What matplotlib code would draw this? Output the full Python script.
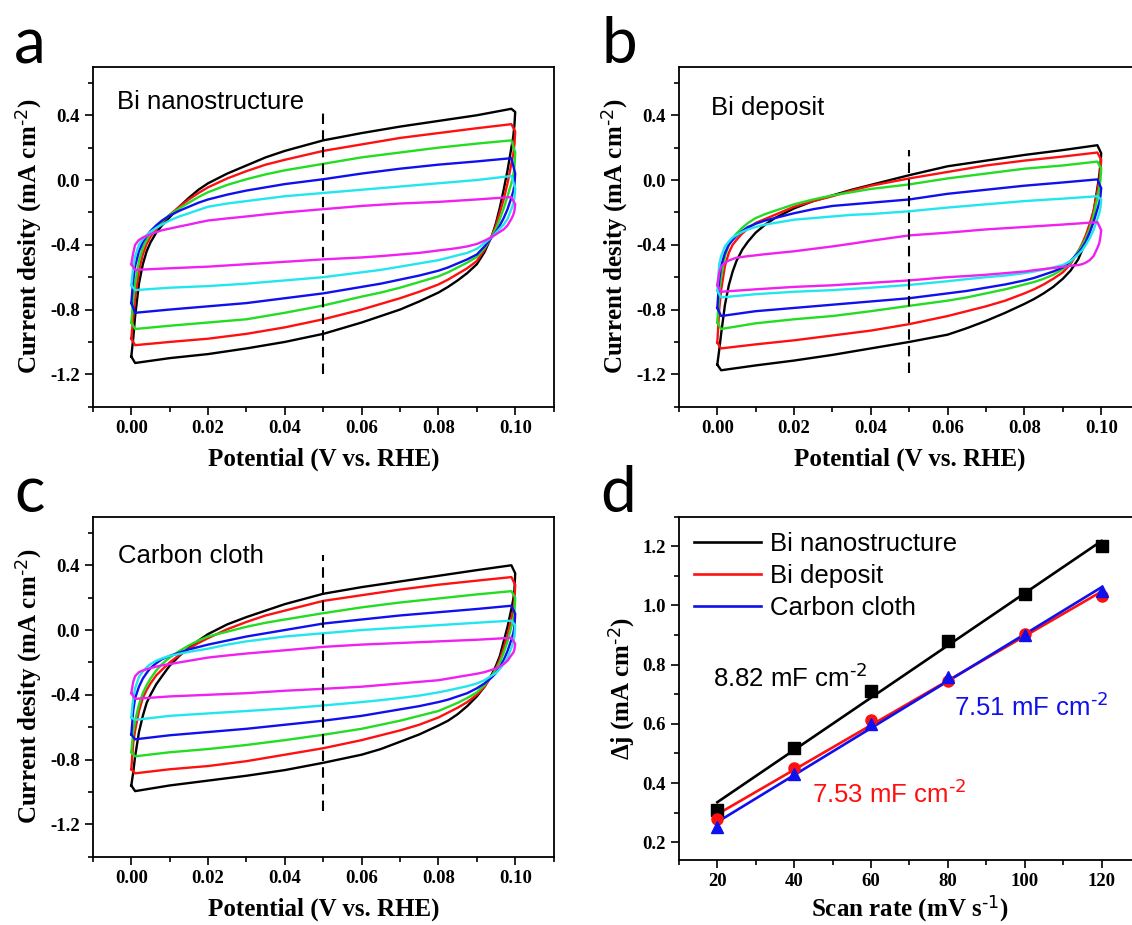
import numpy as np
import matplotlib
matplotlib.use('Agg')
import matplotlib.pyplot as plt
from matplotlib.ticker import MultipleLocator, FormatStrFormatter
from matplotlib.lines import Line2D

plt.rcParams['mathtext.default'] = 'regular'
plt.rcParams['axes.unicode_minus'] = False

# ---------------- data ----------------
# potential grid of the anodic (upper) branch and cathodic (lower) branch
XU = [0.000, 0.0005, 0.001, 0.002, 0.003, 0.004, 0.005, 0.0065, 0.008, 0.010,
      0.0125, 0.015, 0.0175, 0.020, 0.025, 0.030, 0.035, 0.040, 0.050, 0.060,
      0.070, 0.080, 0.090, 0.099]
XL = [0.100, 0.0998, 0.0995, 0.099, 0.098, 0.097, 0.096, 0.095, 0.094, 0.092,
      0.090, 0.0875, 0.085, 0.0825, 0.080, 0.075, 0.070, 0.065, 0.060, 0.050,
      0.040, 0.030, 0.020, 0.010, 0.001, 0.000]

SCAN_LABELS = ['120', '100', '80', '60', '40', '20']
CV_COLORS = ['#000000', '#ff1010', '#22dd22', '#1010ee', '#22e6ee', '#f020f0']

# panel a : Bi nanostructure
A120_UP = [-1.09, -0.98, -0.84, -0.64, -0.52, -0.44, -0.385, -0.325, -0.28, -0.23, -0.165, -0.11, -0.06, -0.02, 0.04, 0.09, 0.14, 0.18, 0.245, 0.29, 0.33, 0.365, 0.40, 0.44]
A120_DN = [0.42, 0.34, 0.27, 0.20, 0.06, -0.06, -0.17, -0.265, -0.34, -0.445, -0.52, -0.575, -0.62, -0.66, -0.695, -0.75, -0.80, -0.84, -0.88, -0.95, -1.00, -1.04, -1.075, -1.10, -1.13, -1.09]
A100_UP = [-0.98, -0.85, -0.73, -0.56, -0.46, -0.395, -0.35, -0.30, -0.26, -0.215, -0.165, -0.12, -0.08, -0.045, 0.01, 0.055, 0.095, 0.125, 0.18, 0.22, 0.26, 0.29, 0.32, 0.345]
A100_DN = [0.30, 0.22, 0.16, 0.10, -0.02, -0.12, -0.20, -0.28, -0.34, -0.43, -0.50, -0.545, -0.58, -0.615, -0.645, -0.69, -0.73, -0.765, -0.80, -0.86, -0.91, -0.95, -0.98, -1.00, -1.02, -0.98]
A80_UP = [-0.88, -0.74, -0.64, -0.50, -0.42, -0.37, -0.33, -0.29, -0.255, -0.215, -0.175, -0.14, -0.105, -0.075, -0.03, 0.005, 0.035, 0.06, 0.10, 0.14, 0.17, 0.20, 0.225, 0.245]
A80_DN = [0.17, 0.08, 0.03, -0.02, -0.10, -0.175, -0.24, -0.30, -0.345, -0.42, -0.475, -0.51, -0.54, -0.57, -0.595, -0.63, -0.665, -0.695, -0.72, -0.775, -0.82, -0.86, -0.88, -0.90, -0.92, -0.88]
A60_UP = [-0.76, -0.62, -0.53, -0.44, -0.385, -0.345, -0.315, -0.28, -0.25, -0.22, -0.19, -0.165, -0.14, -0.12, -0.09, -0.065, -0.045, -0.025, 0.005, 0.04, 0.07, 0.095, 0.115, 0.135]
A60_DN = [0.04, -0.03, -0.07, -0.11, -0.18, -0.235, -0.28, -0.32, -0.35, -0.41, -0.46, -0.49, -0.515, -0.54, -0.56, -0.59, -0.615, -0.64, -0.66, -0.70, -0.73, -0.76, -0.78, -0.80, -0.82, -0.76]
A40_UP = [-0.65, -0.54, -0.47, -0.40, -0.365, -0.34, -0.32, -0.295, -0.275, -0.25, -0.225, -0.205, -0.185, -0.165, -0.145, -0.13, -0.115, -0.10, -0.08, -0.06, -0.04, -0.02, 0.0, 0.025]
A40_DN = [-0.05, -0.11, -0.145, -0.18, -0.24, -0.275, -0.30, -0.325, -0.35, -0.39, -0.425, -0.45, -0.465, -0.48, -0.495, -0.515, -0.535, -0.555, -0.57, -0.60, -0.62, -0.64, -0.655, -0.665, -0.68, -0.65]
A20_UP = [-0.52, -0.45, -0.40, -0.37, -0.355, -0.345, -0.335, -0.322, -0.31, -0.30, -0.287, -0.275, -0.262, -0.25, -0.237, -0.225, -0.212, -0.20, -0.18, -0.16, -0.145, -0.135, -0.12, -0.105]
A20_DN = [-0.15, -0.19, -0.215, -0.24, -0.28, -0.305, -0.32, -0.335, -0.35, -0.375, -0.395, -0.41, -0.42, -0.428, -0.435, -0.45, -0.46, -0.47, -0.478, -0.49, -0.505, -0.52, -0.535, -0.545, -0.555, -0.52]

# panel b : Bi deposit
B120_UP = [-1.14, -1.05, -0.95, -0.77, -0.65, -0.565, -0.50, -0.43, -0.38, -0.325, -0.275, -0.235, -0.205, -0.175, -0.13, -0.095, -0.06, -0.03, 0.03, 0.085, 0.12, 0.155, 0.185, 0.215]
B120_DN = [0.165, 0.10, 0.03, -0.05, -0.20, -0.29, -0.37, -0.435, -0.49, -0.56, -0.61, -0.66, -0.70, -0.735, -0.765, -0.82, -0.87, -0.915, -0.955, -1.00, -1.04, -1.08, -1.115, -1.145, -1.175, -1.14]
B100_UP = [-1.005, -0.80, -0.68, -0.53, -0.45, -0.40, -0.37, -0.33, -0.30, -0.265, -0.24, -0.215, -0.19, -0.165, -0.13, -0.10, -0.065, -0.035, 0.01, 0.05, 0.09, 0.12, 0.145, 0.17]
B100_DN = [0.125, 0.06, 0.0, -0.07, -0.19, -0.27, -0.34, -0.395, -0.44, -0.52, -0.57, -0.61, -0.645, -0.675, -0.70, -0.745, -0.78, -0.81, -0.84, -0.89, -0.93, -0.96, -0.99, -1.015, -1.04, -1.005]
B80_UP = [-0.88, -0.70, -0.60, -0.47, -0.40, -0.36, -0.33, -0.295, -0.265, -0.235, -0.21, -0.19, -0.17, -0.15, -0.12, -0.095, -0.075, -0.055, -0.027, 0.01, 0.04, 0.07, 0.09, 0.114]
B80_DN = [0.07, 0.0, -0.05, -0.11, -0.22, -0.30, -0.36, -0.405, -0.44, -0.51, -0.55, -0.585, -0.61, -0.63, -0.645, -0.675, -0.70, -0.725, -0.745, -0.777, -0.81, -0.84, -0.86, -0.885, -0.92, -0.88]
B60_UP = [-0.79, -0.62, -0.53, -0.45, -0.40, -0.37, -0.345, -0.315, -0.29, -0.27, -0.25, -0.235, -0.22, -0.205, -0.18, -0.16, -0.15, -0.14, -0.12, -0.085, -0.06, -0.035, -0.015, 0.004]
B60_DN = [-0.05, -0.10, -0.14, -0.18, -0.26, -0.325, -0.38, -0.42, -0.45, -0.50, -0.54, -0.565, -0.585, -0.605, -0.62, -0.645, -0.665, -0.685, -0.70, -0.73, -0.75, -0.77, -0.79, -0.81, -0.84, -0.79]
B40_UP = [-0.685, -0.52, -0.47, -0.41, -0.38, -0.355, -0.34, -0.32, -0.305, -0.29, -0.275, -0.265, -0.255, -0.245, -0.235, -0.225, -0.215, -0.21, -0.193, -0.17, -0.15, -0.13, -0.115, -0.10]
B40_DN = [-0.12, -0.17, -0.205, -0.24, -0.31, -0.36, -0.40, -0.435, -0.46, -0.50, -0.525, -0.54, -0.553, -0.565, -0.575, -0.59, -0.60, -0.612, -0.625, -0.648, -0.665, -0.68, -0.69, -0.705, -0.725, -0.685]
B20_UP = [-0.65, -0.57, -0.535, -0.51, -0.497, -0.488, -0.48, -0.475, -0.47, -0.465, -0.458, -0.452, -0.446, -0.44, -0.425, -0.41, -0.393, -0.375, -0.342, -0.325, -0.305, -0.29, -0.275, -0.26]
B20_DN = [-0.31, -0.35, -0.39, -0.42, -0.47, -0.495, -0.51, -0.52, -0.525, -0.53, -0.535, -0.543, -0.55, -0.557, -0.565, -0.575, -0.585, -0.593, -0.60, -0.62, -0.635, -0.65, -0.66, -0.675, -0.69, -0.65]

# panel c : Carbon cloth
C120_UP = [-0.96, -0.88, -0.78, -0.63, -0.53, -0.45, -0.40, -0.335, -0.285, -0.22, -0.16, -0.11, -0.065, -0.025, 0.035, 0.08, 0.12, 0.16, 0.224, 0.265, 0.30, 0.335, 0.37, 0.40]
C120_DN = [0.35, 0.25, 0.19, 0.13, 0.02, -0.07, -0.16, -0.22, -0.27, -0.35, -0.41, -0.47, -0.52, -0.56, -0.59, -0.645, -0.69, -0.735, -0.77, -0.82, -0.865, -0.90, -0.93, -0.96, -0.995, -0.96]
C100_UP = [-0.86, -0.70, -0.62, -0.50, -0.42, -0.37, -0.33, -0.28, -0.245, -0.20, -0.155, -0.115, -0.08, -0.05, 0.005, 0.05, 0.09, 0.12, 0.18, 0.215, 0.25, 0.28, 0.305, 0.327]
C100_DN = [0.28, 0.18, 0.12, 0.07, -0.03, -0.11, -0.18, -0.235, -0.28, -0.35, -0.40, -0.445, -0.48, -0.51, -0.54, -0.585, -0.62, -0.65, -0.68, -0.73, -0.77, -0.81, -0.84, -0.86, -0.885, -0.86]
C80_UP = [-0.755, -0.63, -0.56, -0.46, -0.39, -0.34, -0.30, -0.25, -0.21, -0.17, -0.13, -0.095, -0.065, -0.04, -0.01, 0.02, 0.045, 0.065, 0.104, 0.14, 0.17, 0.195, 0.22, 0.24]
C80_DN = [0.20, 0.11, 0.06, 0.02, -0.07, -0.14, -0.20, -0.245, -0.28, -0.34, -0.385, -0.42, -0.45, -0.475, -0.50, -0.53, -0.56, -0.585, -0.61, -0.647, -0.68, -0.71, -0.735, -0.755, -0.78, -0.755]
C60_UP = [-0.645, -0.50, -0.42, -0.35, -0.30, -0.265, -0.235, -0.205, -0.18, -0.16, -0.14, -0.12, -0.105, -0.09, -0.065, -0.04, -0.02, 0.0, 0.04, 0.065, 0.09, 0.11, 0.13, 0.15]
C60_DN = [0.10, 0.02, -0.02, -0.06, -0.13, -0.185, -0.23, -0.265, -0.29, -0.33, -0.36, -0.39, -0.41, -0.43, -0.445, -0.47, -0.49, -0.51, -0.53, -0.56, -0.585, -0.61, -0.63, -0.65, -0.675, -0.645]
C40_UP = [-0.54, -0.42, -0.36, -0.29, -0.255, -0.23, -0.21, -0.19, -0.175, -0.16, -0.147, -0.135, -0.125, -0.115, -0.09, -0.07, -0.055, -0.04, -0.02, 0.0, 0.015, 0.03, 0.045, 0.058]
C40_DN = [0.03, -0.04, -0.075, -0.11, -0.17, -0.21, -0.24, -0.265, -0.28, -0.31, -0.33, -0.347, -0.36, -0.373, -0.385, -0.405, -0.42, -0.433, -0.445, -0.466, -0.485, -0.50, -0.515, -0.53, -0.555, -0.54]
C20_UP = [-0.39, -0.32, -0.285, -0.26, -0.25, -0.242, -0.235, -0.226, -0.218, -0.21, -0.20, -0.19, -0.18, -0.17, -0.157, -0.145, -0.135, -0.125, -0.104, -0.09, -0.08, -0.07, -0.06, -0.048]
C20_DN = [-0.085, -0.12, -0.14, -0.155, -0.19, -0.21, -0.225, -0.237, -0.245, -0.26, -0.27, -0.28, -0.29, -0.30, -0.31, -0.32, -0.33, -0.34, -0.35, -0.363, -0.375, -0.39, -0.40, -0.41, -0.425, -0.39]

# dashed marker line at 0.05 V (ymin, ymax) per panel
DASH_X = 0.05
DASH_A = (-1.20, 0.415)
DASH_B = (-1.19, 0.187)
DASH_C = (-1.12, 0.466)

# panel d : delta j vs scan rate
SCAN_RATE = [20, 40, 60, 80, 100, 120]
DJ_NANO = [0.31, 0.52, 0.71, 0.88, 1.04, 1.20]
DJ_DEPOSIT = [0.277, 0.452, 0.613, 0.746, 0.905, 1.032]
DJ_CLOTH = [0.252, 0.432, 0.598, 0.758, 0.900, 1.050]
SERIES_NAMES = ['Bi nanostructure', 'Bi deposit', 'Carbon cloth']
CAP_TEXT = ['8.82 mF cm$^{\\text{-2}}$', '7.53 mF cm$^{\\text{-2}}$', '7.51 mF cm$^{\\text{-2}}$']

# ---------------- figure ----------------
W, H = 1132, 925
fig = plt.figure(figsize=(W / 100, H / 100), dpi=100)

def rect(left, top, right, bottom):
    return [left / W, 1 - bottom / H, (right - left) / W, (bottom - top) / H]

SERIF = 'Liberation Serif'
SANS = 'Liberation Sans'
TICK_FS = 13.5
LABEL_FS = 18
TEXT_FS = 18.5

def style_axes(ax):
    for s in ['left', 'bottom', 'top', 'right']:
        ax.spines[s].set_linewidth(1.3)
    ax.tick_params(which='both', direction='out', top=False, right=False, width=1.2)
    ax.tick_params(which='major', length=5.5, pad=4)
    ax.tick_params(which='minor', length=3.5)
    for lab in ax.get_xticklabels() + ax.get_yticklabels():
        lab.set_fontfamily(SERIF)
        lab.set_fontweight('bold')
        lab.set_fontsize(TICK_FS)

def cv_panel(ax, loops, dash, title, title_pos):
    for (up, dn), c in zip(loops, CV_COLORS):
        assert len(up) == len(XU) and len(dn) == len(XL)
        xs = list(XU) + list(XL)
        ys = list(up) + list(dn)
        ax.plot(xs, ys, color=c, lw=1.7, solid_joinstyle='round')
    ax.vlines(DASH_X, dash[0], dash[1], colors='k', linestyles=(0, (5, 3)), lw=1.5)
    ax.set_xlim(-0.01, 0.11)
    ax.set_ylim(-1.4, 0.7)
    ax.xaxis.set_major_locator(MultipleLocator(0.02))
    ax.xaxis.set_minor_locator(MultipleLocator(0.01))
    ax.yaxis.set_major_locator(MultipleLocator(0.4))
    ax.yaxis.set_minor_locator(MultipleLocator(0.2))
    ax.xaxis.set_major_formatter(FormatStrFormatter('%.2f'))
    ax.yaxis.set_major_formatter(FormatStrFormatter('%.1f'))
    ax.set_xlabel('Potential (V vs. RHE)', fontfamily=SERIF, fontweight='bold',
                  fontsize=LABEL_FS, labelpad=8)
    ax.set_ylabel('Current desity (mA cm$^{\\text{-2}}$)', fontfamily=SERIF, fontweight='bold',
                  fontsize=LABEL_FS, labelpad=4)
    ax.text(title_pos[0], title_pos[1], title, transform=ax.transAxes, fontfamily=SANS,
            fontsize=TEXT_FS, va='center', ha='left')
    style_axes(ax)

axA = fig.add_axes(rect(92.9, 66.7, 553.6, 406.7))
axB = fig.add_axes(rect(678.9, 66.7, 1139.6, 406.7))
axC = fig.add_axes(rect(92.9, 516.7, 553.6, 856.7))
axD = fig.add_axes(rect(678.9, 516.7, 1140.0, 860.0))

cv_panel(axA, [(A120_UP, A120_DN), (A100_UP, A100_DN), (A80_UP, A80_DN),
               (A60_UP, A60_DN), (A40_UP, A40_DN), (A20_UP, A20_DN)],
         DASH_A, 'Bi nanostructure', (0.052, 0.895))
cv_panel(axB, [(B120_UP, B120_DN), (B100_UP, B100_DN), (B80_UP, B80_DN),
               (B60_UP, B60_DN), (B40_UP, B40_DN), (B20_UP, B20_DN)],
         DASH_B, 'Bi deposit', (0.07, 0.88))
cv_panel(axC, [(C120_UP, C120_DN), (C100_UP, C100_DN), (C80_UP, C80_DN),
               (C60_UP, C60_DN), (C40_UP, C40_DN), (C20_UP, C20_DN)],
         DASH_C, 'Carbon cloth', (0.055, 0.884))

# panel d
d_series = [DJ_NANO, DJ_DEPOSIT, DJ_CLOTH]
d_colors = ['#000000', '#ff1010', '#1010ee']
d_markers = ['s', 'o', '^']
sr = np.array(SCAN_RATE, dtype=float)
for ys, c, m in zip(d_series, d_colors, d_markers):
    k, b = np.polyfit(sr, ys, 1)
    xfit = np.array([sr.min(), sr.max()])
    axD.plot(xfit, k * xfit + b, color=c, lw=1.9, zorder=2)
    axD.plot(sr, ys, linestyle='none', marker=m, color=c, markersize=8, zorder=3)

axD.set_xlim(10, 130)
axD.set_ylim(0.14, 1.30)
axD.xaxis.set_major_locator(MultipleLocator(20))
axD.xaxis.set_minor_locator(MultipleLocator(10))
axD.yaxis.set_major_locator(MultipleLocator(0.2))
axD.yaxis.set_minor_locator(MultipleLocator(0.1))
axD.xaxis.set_major_formatter(FormatStrFormatter('%d'))
axD.yaxis.set_major_formatter(FormatStrFormatter('%.1f'))
axD.set_xlabel('Scan rate (mV s$^{\\text{-1}}$)', fontfamily=SERIF, fontweight='bold',
               fontsize=LABEL_FS, labelpad=2)
axD.set_ylabel('Δj (mA cm$^{\\text{-2}}$)', fontfamily=SERIF, fontweight='bold',
               fontsize=LABEL_FS, labelpad=4)
handles = [Line2D([], [], color=c, lw=1.9) for c in d_colors]
axD.legend(handles, SERIES_NAMES, loc='upper left', frameon=False,
           prop={'family': SANS, 'size': TEXT_FS}, handlelength=2.6,
           handletextpad=0.35, labelspacing=0.3, borderaxespad=0.2)
axD.text(18.8, 0.725, CAP_TEXT[0], color='#000000', fontfamily=SANS, fontsize=TEXT_FS, va='baseline')
axD.text(44.6, 0.331, CAP_TEXT[1], color='#ff1010', fontfamily=SANS, fontsize=TEXT_FS, va='baseline')
axD.text(81.5, 0.626, CAP_TEXT[2], color='#1010ee', fontfamily=SANS, fontsize=TEXT_FS, va='baseline')
style_axes(axD)

# panel letters
for letter, (px, py) in zip('abcd', [(14, 63), (602, 63), (14, 512), (600, 512)]):
    fig.text(px / W, 1 - py / H, letter, fontfamily='Lato', fontsize=46,
             ha='left', va='baseline')

fig.savefig('out.png', dpi=100)
